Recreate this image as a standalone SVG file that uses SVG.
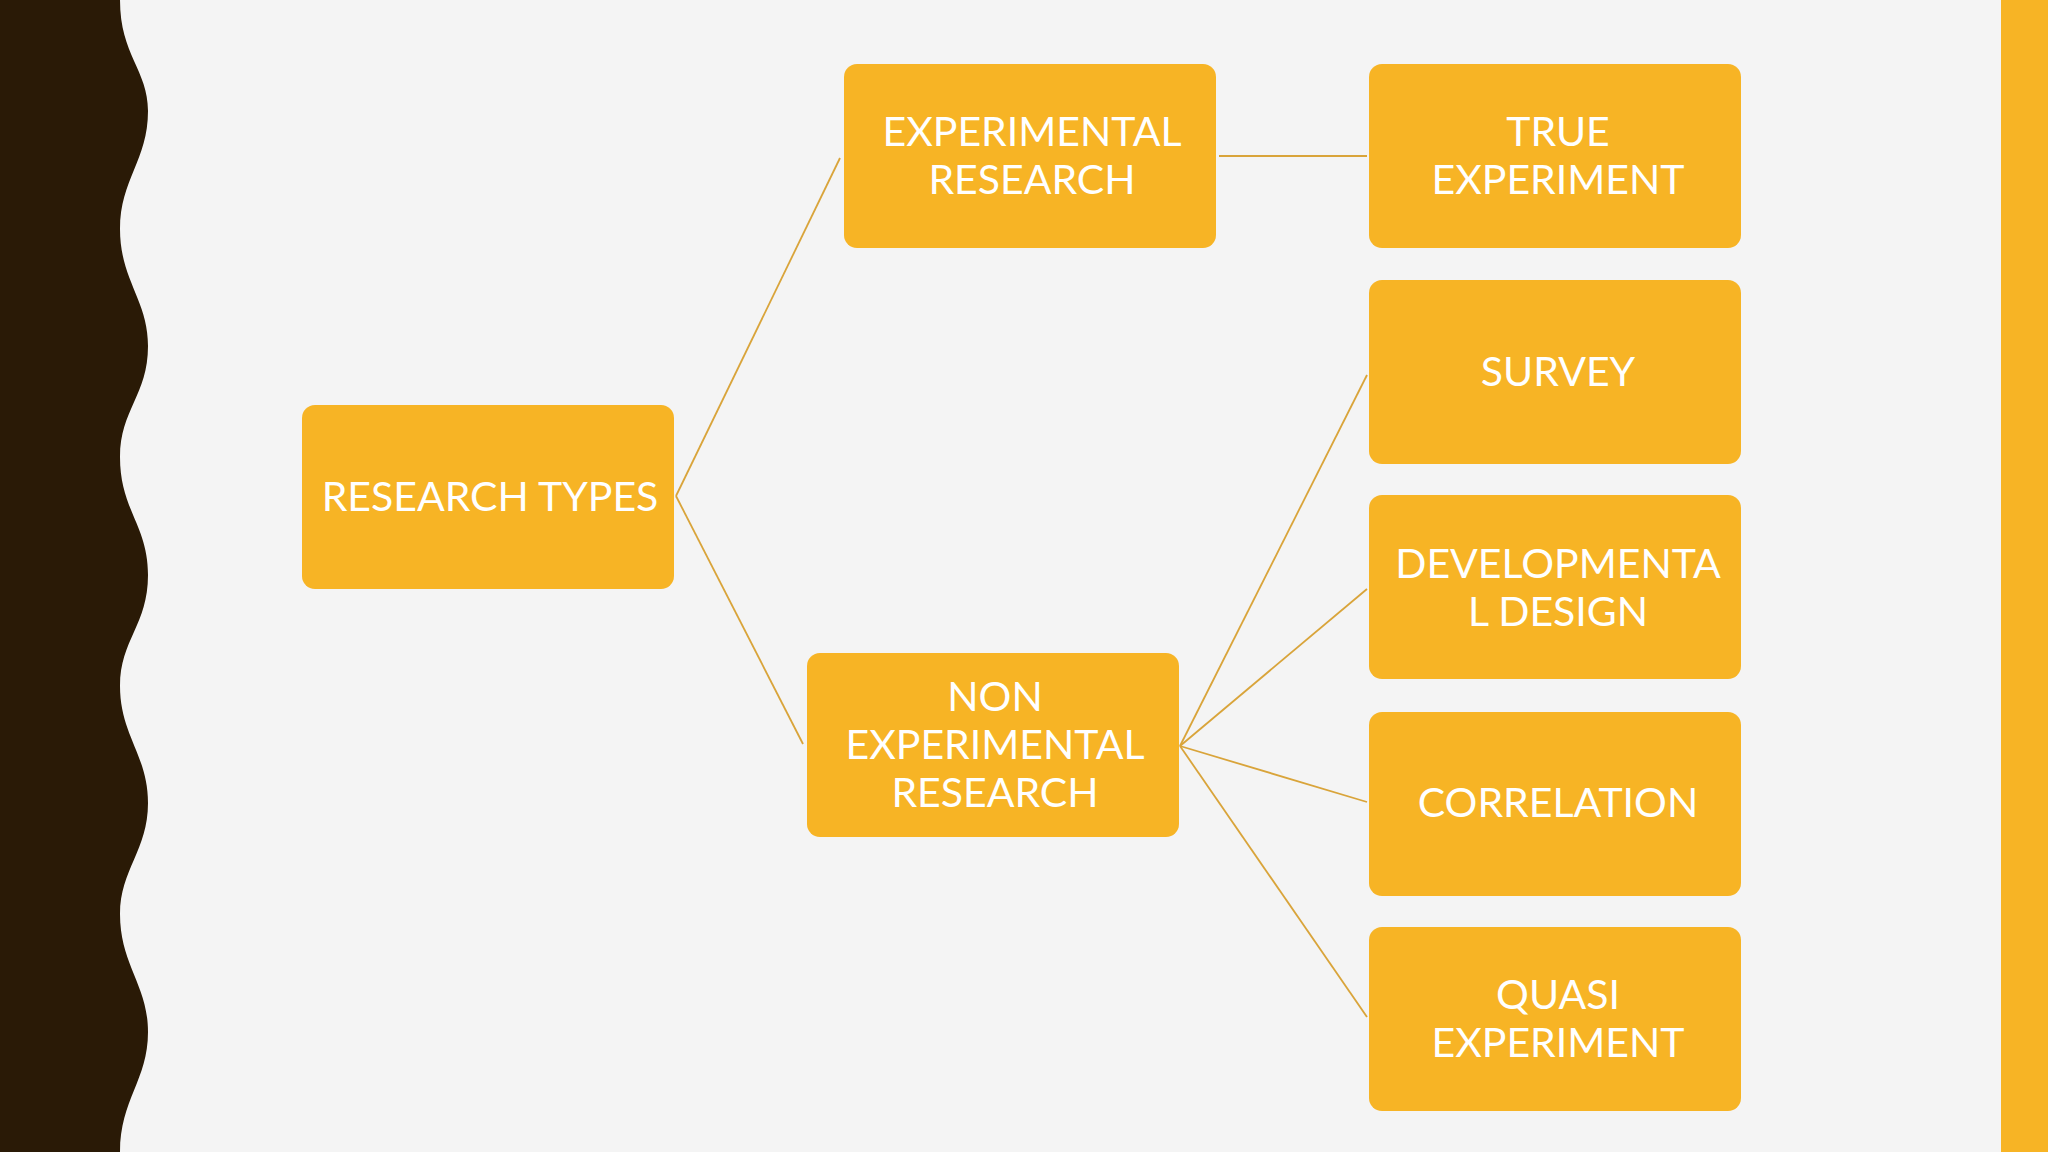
<svg xmlns="http://www.w3.org/2000/svg" width="2048" height="1152" viewBox="0 0 2048 1152">
<style>
.n rect{fill:#F7B425;}
.n text{fill:#FFFFFF;font-family:Lato,"Open Sans",sans-serif;font-size:41px;text-anchor:middle;}
#connectors line{stroke:#D9A43A;stroke-width:1.8;}
</style>
<rect width="2048" height="1152" fill="#F4F4F4"/>
<path d="M0 0 H120 C120 55 148 70 148 111 C148 160 120 180 120 229 C120 280 148 300 148 346 C148 395 120 410 120 457 C120 510 148 525 148 575 C148 625 120 640 120 686 C120 735 148 755 148 803 C148 850 120 870 120 914 C120 965 148 985 148 1032 C148 1080 120 1100 120 1152 H0 Z" fill="#2A1A06"/>
<rect x="2001" y="0" width="47" height="1152" fill="#F7B425"/>
<g id="connectors">
<line x1="676" y1="496" x2="840" y2="158"/>
<line x1="676" y1="496" x2="803" y2="744"/>
<line x1="1219" y1="156" x2="1367" y2="156"/>
<line x1="1180" y1="746" x2="1367" y2="375"/>
<line x1="1180" y1="746" x2="1367" y2="589"/>
<line x1="1180" y1="746" x2="1367" y2="802"/>
<line x1="1180" y1="746" x2="1367" y2="1017"/>
</g>
<g id="research-types" class="n"><rect x="302" y="405" width="372" height="184" rx="13"/><text x="490" y="511">RESEARCH TYPES</text></g>
<g id="experimental" class="n"><rect x="844" y="64" width="372" height="184" rx="13"/><text x="1032" y="146">EXPERIMENTAL</text><text x="1032" y="194">RESEARCH</text></g>
<g id="non-experimental" class="n"><rect x="807" y="653" width="372" height="184" rx="13"/><text x="995" y="711">NON</text><text x="995" y="759">EXPERIMENTAL</text><text x="995" y="807">RESEARCH</text></g>
<g id="true-experiment" class="n"><rect x="1369" y="64" width="372" height="184" rx="13"/><text x="1558" y="146">TRUE</text><text x="1558" y="194">EXPERIMENT</text></g>
<g id="survey" class="n"><rect x="1369" y="280" width="372" height="184" rx="13"/><text x="1558" y="386">SURVEY</text></g>
<g id="developmental" class="n"><rect x="1369" y="495" width="372" height="184" rx="13"/><text x="1558" y="578">DEVELOPMENTA</text><text x="1558" y="626">L DESIGN</text></g>
<g id="correlation" class="n"><rect x="1369" y="712" width="372" height="184" rx="13"/><text x="1558" y="817">CORRELATION</text></g>
<g id="quasi" class="n"><rect x="1369" y="927" width="372" height="184" rx="13"/><text x="1558" y="1009">QUASI</text><text x="1558" y="1057">EXPERIMENT</text></g>
</svg>
